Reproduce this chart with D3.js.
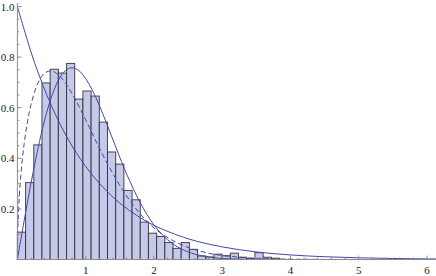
<!DOCTYPE html>
<html>
<head>
<meta charset="utf-8">
<script src="https://cdn.jsdelivr.net/npm/d3@7"></script>
<style>
body { margin: 0; background: #fff; }
</style>
</head>
<body>
<script>
// histogram heights, one per bin of width binWidth starting at 0
var binWidth = 0.12;
var heights = [0.108, 0.304, 0.453, 0.698, 0.752, 0.737, 0.775, 0.634, 0.666, 0.646,
	0.543, 0.425, 0.377, 0.273, 0.236, 0.148, 0.104, 0.091, 0.067, 0.044,
	0.067, 0.040, 0.014, 0.010, 0.021, 0.015, 0.025, 0.009, 0.004, 0.027,
	0.009, 0.005];

// solid decaying curve
var expX = [0, 0.25, 0.5, 0.75, 1, 1.25, 1.5, 1.75, 2, 2.5, 3, 3.5, 4, 4.5, 5, 5.5, 6, 6.13];
var expY = [1, 0.779, 0.607, 0.472, 0.368, 0.287, 0.223, 0.174, 0.135, 0.082, 0.050, 0.030, 0.018, 0.011, 0.0067, 0.0041, 0.0025, 0.0022];

// solid hump
var humpX = [0, 0.1, 0.2, 0.3, 0.4, 0.5, 0.6, 0.7, 0.8, 0.9, 1, 1.1, 1.2, 1.3, 1.4, 1.5, 1.6, 1.8, 2, 2.2, 2.4, 2.6, 2.8, 3, 3.5, 4, 5, 6.13];
var humpY = [0, 0.155, 0.303, 0.437, 0.552, 0.643, 0.708, 0.746, 0.758, 0.747, 0.715, 0.668, 0.609, 0.543, 0.473, 0.404, 0.338, 0.224, 0.137, 0.078, 0.042, 0.021, 0.010, 0.004, 0.0004, 0, 0, 0];

// dashed hump
var dashX = [0, 0.005, 0.02, 0.05, 0.1, 0.15, 0.2, 0.3, 0.4, 0.5, 0.6, 0.7, 0.8, 0.9, 1, 1.2, 1.4, 1.6, 1.8, 2, 2.25, 2.5, 2.75, 3, 3.5, 4, 4.5, 5, 6.13];
var dashY = [0, 0.106, 0.211, 0.332, 0.460, 0.548, 0.613, 0.697, 0.737, 0.745, 0.730, 0.699, 0.656, 0.606, 0.552, 0.441, 0.339, 0.251, 0.180, 0.125, 0.079, 0.048, 0.028, 0.016, 0.005, 0.0015, 0.0003, 0, 0];

var yTicks = [0.2, 0.4, 0.6, 0.8, 1.0];
var xTicks = [1, 2, 3, 4, 5, 6];

var width = 436;
var height = 276;
var font = "'Liberation Serif', 'Times New Roman', Times, serif";

var x = d3.scaleLinear()
	.domain([0, 6.13])
	.range([17.4, 435.8]);

var y = d3.scaleLinear()
	.domain([0, 1])
	.range([259.5, 6.5]);

var svg = d3.select("body")
	.append("svg")
		.attr("width", width)
		.attr("height", height);

// bars
svg.append("g")
	.selectAll("rect")
	.data(heights)
	.enter()
	.append("rect")
		.attr("x", (d, i) => { return x(i * binWidth); })
		.attr("width", (d, i) => { return x((i + 1) * binWidth) - x(i * binWidth); })
		.attr("y", (d) => { return y(d); })
		.attr("height", (d) => { return y(0) - y(d); })
		.attr("fill", "#c6caea")
		.attr("stroke", "#2a2a2a")
		.attr("stroke-opacity", 0.85)
		.attr("stroke-width", 1);

var line = d3.line()
	.x((d) => { return x(d[0]); })
	.y((d) => { return y(d[1]); })
	.curve(d3.curveCatmullRom.alpha(0.5));

var curves = [
	{xs: expX, ys: expY, dash: null},
	{xs: humpX, ys: humpY, dash: null},
	{xs: dashX, ys: dashY, dash: "5,3"}
];

curves.forEach((c) => {
	svg.append("path")
		.datum(d3.zip(c.xs, c.ys))
		.attr("d", line)
		.attr("fill", "none")
		.attr("stroke", "#4646a6")
		.attr("stroke-width", 1)
		.attr("stroke-dasharray", c.dash);
});

// axes, Mathematica style: ticks point inside
var axisColor = "#8a8a8a";
svg.append("line")
	.attr("x1", x(0)).attr("x2", x(0))
	.attr("y1", 3).attr("y2", y(0))
	.attr("stroke", axisColor);
svg.append("line")
	.attr("x1", x(0)).attr("x2", width)
	.attr("y1", y(0)).attr("y2", y(0))
	.attr("stroke", axisColor);

var yMinor = d3.range(0.05, 1.001, 0.05);
svg.append("g").selectAll("line")
	.data(yMinor)
	.enter().append("line")
		.attr("x1", x(0)).attr("x2", (d) => { return x(0) + (Math.abs(d * 5 - Math.round(d * 5)) < 1e-6 ? 4 : 2); })
		.attr("y1", (d) => { return y(d); }).attr("y2", (d) => { return y(d); })
		.attr("stroke", axisColor);

var xMinor = d3.range(0.2, 6.01, 0.2);
svg.append("g").selectAll("line")
	.data(xMinor)
	.enter().append("line")
		.attr("x1", (d) => { return x(d); }).attr("x2", (d) => { return x(d); })
		.attr("y1", y(0)).attr("y2", (d) => { return y(0) - (Math.abs(d - Math.round(d)) < 1e-6 ? 4 : 2); })
		.attr("stroke", axisColor);

svg.append("g").selectAll("text")
	.data(yTicks)
	.enter().append("text")
		.attr("x", x(0) - 3)
		.attr("y", (d) => { return y(d) + 4; })
		.attr("text-anchor", "end")
		.attr("font-family", font)
		.attr("font-size", "11px")
		.attr("fill", "#222")
		.text((d) => { return d.toFixed(1); });

svg.append("g").selectAll("text")
	.data(xTicks)
	.enter().append("text")
		.attr("x", (d) => { return x(d); })
		.attr("y", 274)
		.attr("text-anchor", "middle")
		.attr("font-family", font)
		.attr("font-size", "11px")
		.attr("fill", "#222")
		.text((d) => { return d; });
</script>
</body>
</html>
